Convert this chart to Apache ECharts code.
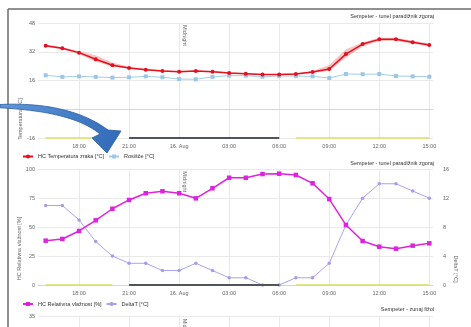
<!DOCTYPE html>
<html><head><meta charset="utf-8">
<script src="https://cdn.jsdelivr.net/npm/echarts@6/dist/echarts.min.js"></script>
<style>html,body{margin:0;padding:0;background:#fff}#c{width:471px;height:327px}</style>
</head><body><div id="c"></div>
<script>
// ---- data ----
const times = ['16:00','17:00','18:00','19:00','20:00','21:00','22:00','23:00','00:00','01:00','02:00','03:00',
               '04:00','05:00','06:00','07:00','08:00','09:00','10:00','11:00','12:00','13:00','14:00','15:00'];
const tickTimes  = ['18:00','21:00','00:00','03:00','06:00','09:00','12:00','15:00'];
const tickLabels = ['18:00','21:00','16. Aug','03:00','06:00','09:00','12:00','15:00'];
const tempAir  = [35.4,33.9,31.5,27.8,24.5,23.0,22.0,21.3,20.9,21.3,20.9,20.2,19.8,19.3,19.3,19.6,20.7,22.4,30.7,36.3,38.9,38.9,37.3,35.8];
const tempLow  = [34.8,33.3,30.6,26.6,23.8,22.5,21.6,21.0,20.6,21.0,20.6,19.9,19.5,19.0,19.0,19.3,20.2,21.4,28.6,34.9,38.0,38.0,36.5,34.9];
const tempHigh = [36.0,34.5,32.3,30.0,26.0,23.6,22.5,21.7,21.3,21.7,21.3,20.6,20.1,19.6,19.6,20.0,21.3,24.6,33.4,37.2,39.8,39.8,38.1,36.6];
const dewPoint = [18.9,18.0,18.3,18.0,17.6,17.8,18.3,17.8,16.8,16.7,18.0,18.7,18.7,18.1,18.5,18.5,18.3,17.4,19.6,19.5,19.6,18.5,18.3,18.1];
const relHumidity = [38.3,39.8,46.7,55.9,65.9,73.5,79.3,81.0,79.3,74.9,83.6,92.7,92.7,95.9,96.2,95.1,87.9,74.3,51.9,38.0,33.1,31.4,34.0,36.0];
const deltaT = [11,11,9,6,4,3,3,2,2,3,2,1,1,0,0,1,1,3,8.3,12,14,14,13,12];
const dayPeriods   = [['16:00','20:00'],['07:00','15:00']];
const nightPeriods = [['21:00','06:00']];
const titles = ['Sempeter - tunel paradižnik zgoraj','Sempeter - tunel paradižnik zgoraj','Sempeter - zunaj fižol'];
const seriesNames = ['HC Temperatura zraka [°C]','Rosišče [°C]','HC Relativna vlažnost [%]','DeltaT [°C]'];
const axisTitles = ['Temperatura [°C]','HC Relativna vlažnost [%]','DeltaT [°C]'];
const midnightLabel = 'Midnight';

// ---- build ----
const FONT = 'Liberation Sans';
const FS = 5.5;
const tickIdx = tickTimes.map(t => times.indexOf(t));
const pts = arr => arr.map((v,i)=>[i,v]);
const GRID_L = 38, GRID_W = 395;
const grids = [
  {left:GRID_L, top:23, width:GRID_W, height:115},
  {left:GRID_L, top:169.3, width:GRID_W, height:115.7},
  {left:GRID_L, top:316.7, width:GRID_W, height:115}
];
function xAxisFor(gi, showLabels){
  return {
    type:'value', gridIndex:gi, min:-0.46, max:23.22,
    axisLine:{show:gi<2, lineStyle:{color:'#ccd6eb', width:1}},
    axisTick:{show:false, customValues:tickIdx},
    axisLabel:{show:showLabels, customValues:tickIdx, margin:5, color:'#666', fontSize:FS, fontFamily:FONT,
      formatter:v=>tickLabels[tickIdx.indexOf(Math.round(v))]},
    splitLine:{show:true, lineStyle:{color:'#e9e9e9', width:1}}
  };
}
function yAxisFor(gi, min, max, interval, pos, margin){
  return {
    type:'value', gridIndex:gi, min, max, interval, position:pos||'left',
    axisLine:{show:false}, axisTick:{show:false},
    axisLabel:{color:'#666', fontSize:FS, fontFamily:FONT, margin:margin||3, align: pos==='right'?'left':'right'},
    splitLine:{show:true, lineStyle:{color:'#e9e9e9', width:1}}
  };
}
function segSeries(periods, color, width, xi, yi, yVal){
  return periods.map(p => ({
    type:'line', xAxisIndex:xi, yAxisIndex:yi, silent:true, symbol:'none', z:6, clip:false,
    lineStyle:{color, width}, data:[[times.indexOf(p[0]), yVal],[times.indexOf(p[1]), yVal]]
  }));
}
const DAY = '#dcde62', NIGHT = '#50555c';

const y3 = yAxisFor(2,0,35,35);
y3.axisLabel.showMinLabel = false;

const option = {
  animation:false,
  textStyle:{fontFamily:FONT},
  title: titles.map((t,i)=>({text:t, right:37, top:[13,160,306.6][i], padding:0,
    textStyle:{fontSize:FS, fontWeight:'normal', color:'#333', fontFamily:FONT}})),
  legend:[
    {data:[seriesNames[0],seriesNames[1]], left:22, top:153.5, padding:0, itemWidth:10, itemHeight:5, itemGap:4,
     textStyle:{fontSize:FS, color:'#333', fontFamily:FONT}},
    {data:[seriesNames[2],seriesNames[3]], left:22, top:301, padding:0, itemWidth:10, itemHeight:5, itemGap:4,
     textStyle:{fontSize:FS, color:'#333', fontFamily:FONT}}
  ],
  grid: grids,
  xAxis:[xAxisFor(0,true), xAxisFor(1,true), xAxisFor(2,false)],
  yAxis:[
    yAxisFor(0,-16,48,16),
    yAxisFor(1,0,100,25),
    Object.assign(yAxisFor(1,0,16,4,'right',10), {splitLine:{show:false}}),
    y3
  ],
  series:[
    {type:'custom', xAxisIndex:0, yAxisIndex:0, silent:true, z:1,
     data: times.map((t,i)=>[i, tempLow[i], tempHigh[i]]),
     encode:{x:0, y:[1,2]},
     renderItem:function(params, api){
       if (params.dataIndex !== 0) return null;
       const p = [];
       for (let i=0;i<times.length;i++) p.push(api.coord([i, tempHigh[i]]));
       for (let i=times.length-1;i>=0;i--) p.push(api.coord([i, tempLow[i]]));
       return {type:'polygon', shape:{points:p}, style:{fill:'rgba(236,96,96,0.38)'}};
     }},
    {name:seriesNames[0], type:'line', xAxisIndex:0, yAxisIndex:0, z:4, data:pts(tempAir),
     symbol:'circle', symbolSize:4, lineStyle:{color:'#e3101f', width:1.5}, itemStyle:{color:'#e3101f'}},
    {name:seriesNames[1], type:'line', xAxisIndex:0, yAxisIndex:0, z:3, data:pts(dewPoint),
     symbol:'rect', symbolSize:4, lineStyle:{color:'#a3cce8', width:1}, itemStyle:{color:'#9cc6e6'}},
    {name:seriesNames[2], type:'line', xAxisIndex:1, yAxisIndex:1, z:4, data:pts(relHumidity),
     symbol:'rect', symbolSize:4.5, lineStyle:{color:'#df22df', width:1.5}, itemStyle:{color:'#df22df'}},
    {name:seriesNames[3], type:'line', xAxisIndex:1, yAxisIndex:2, z:3, data:pts(deltaT),
     symbol:'circle', symbolSize:3.5, lineStyle:{color:'#aaa3ee', width:1}, itemStyle:{color:'#a49ced'}},
    ...segSeries(dayPeriods, DAY, 1.5, 0, 0, -16),
    ...segSeries(nightPeriods, NIGHT, 2, 0, 0, -16),
    ...segSeries(dayPeriods, DAY, 1.5, 1, 1, 0),
    ...segSeries(nightPeriods, NIGHT, 2, 1, 1, 0)
  ]
};

const chart = echarts.init(document.getElementById('c'), null, {renderer:'canvas'});
chart.setOption(option);

// decorations: frame, axis titles, midnight labels, arrow
function bez(p0,p1,p2,p3,n){
  const out=[];
  for(let k=0;k<=n;k++){const t=k/n,u=1-t;
    out.push([u*u*u*p0[0]+3*u*u*t*p1[0]+3*u*t*t*p2[0]+t*t*t*p3[0],
              u*u*u*p0[1]+3*u*u*t*p1[1]+3*u*t*t*p2[1]+t*t*t*p3[1]]);}
  return out;
}
const arrowPts = [].concat(
  bez([0,104.5],[40,102.5],[80,109],[108,130],24),
  [[121,131],[107,153],[92,138]],
  bez([100,134],[78,116],[40,110],[0,107.8],24)
);
const midIdx = times.indexOf('00:00');
const labelStyle = {fill:'#666', fontSize:FS, fontFamily:FONT};
const midTexts = [0,1,2].map(gi=>{
  const p = chart.convertToPixel({gridIndex:gi}, [midIdx, [48,100,35][gi]]);
  return {type:'text', x:p[0]+2.5, y:p[1]+2, rotation:-Math.PI/2, z:10, silent:true,
    style:Object.assign({text:midnightLabel, align:'left', verticalAlign:'bottom'}, labelStyle)};
});
chart.setOption({graphic:[
  {type:'line', shape:{x1:8, y1:9, x2:471, y2:9}, style:{stroke:'#6b6b6b', lineWidth:1.5}, silent:true, z:20},
  {type:'line', shape:{x1:8, y1:9, x2:8, y2:327}, style:{stroke:'#6b6b6b', lineWidth:1.5}, silent:true, z:20},
  {type:'text', x:20, y:119, rotation:Math.PI/2, silent:true, z:10,
   style:Object.assign({text:axisTitles[0], align:'center', verticalAlign:'middle'}, labelStyle)},
  {type:'text', x:19.5, y:248.5, rotation:Math.PI/2, silent:true, z:10,
   style:Object.assign({text:axisTitles[1], align:'center', verticalAlign:'middle'}, labelStyle)},
  {type:'text', x:455.5, y:269, rotation:-Math.PI/2, silent:true, z:10,
   style:Object.assign({text:axisTitles[2], align:'center', verticalAlign:'middle'}, labelStyle)},
  ...midTexts,
  {type:'polygon', silent:true, z:30,
   shape:{points:arrowPts},
   style:{fill:{type:'linear', x:0, y:0, x2:1, y2:1, colorStops:[{offset:0,color:'#5f98da'},{offset:1,color:'#2f69b6'}]},
          stroke:'#2b5d9e', lineWidth:0.8}}
]});
</script></body></html>
